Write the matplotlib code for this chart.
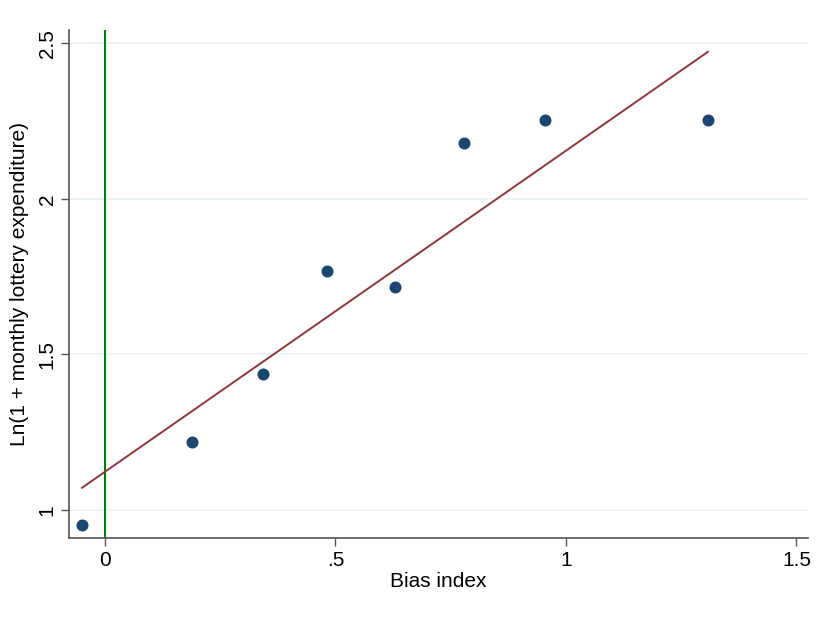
import numpy as np
import matplotlib.pyplot as plt

plt.rcParams['font.family'] = ['Liberation Sans', 'DejaVu Sans']

# binned scatter points
bias = [-0.05, 0.189, 0.343, 0.482, 0.629, 0.779, 0.954, 1.308]
lottery = [0.952, 1.219, 1.437, 1.768, 1.717, 2.180, 2.254, 2.254]

# linear fit line as drawn
fit_intercept = 1.123
fit_slope = 1.032

xticks = [0, 0.5, 1, 1.5]
xlabels = ['0', '.5', '1', '1.5']
yticks = [1, 1.5, 2, 2.5]
ylabels = ['1', '1.5', '2', '2.5']

fig = plt.figure(figsize=(8.17, 6.18), dpi=100)
ax = fig.add_axes([0.0845, 0.1294, 0.9045, 0.8221])

ax.grid(axis='y', color='#eaf2f3', linewidth=1.2, zorder=0)
ax.axvline(0, color='#008000', linewidth=1.5, zorder=2)

xf = np.array([min(bias), max(bias)])
ax.plot(xf, fit_intercept + fit_slope * xf, color='#90353b', linewidth=1.4, zorder=3)
ax.scatter(bias, lottery, s=75, color='#1a476f', zorder=4, linewidths=0)

ax.set_xlim(-0.078, 1.525)
ax.set_ylim(0.91, 2.543)
ax.set_xticks(xticks)
ax.set_xticklabels(xlabels)
ax.set_yticks(yticks)
ax.set_yticklabels(ylabels, rotation=90, va='center')
ax.tick_params(labelsize=15, color='#555555', length=6, width=1, pad=3)
ax.set_xlabel('Bias index', fontsize=15, labelpad=2)
ax.set_ylabel('Ln(1 + monthly lottery expenditure)', fontsize=15, labelpad=6)

for s in ['top', 'right']:
    ax.spines[s].set_visible(False)
for s in ['left', 'bottom']:
    ax.spines[s].set_color('#555555')
    ax.spines[s].set_linewidth(1.2)

plt.savefig('out.png')
